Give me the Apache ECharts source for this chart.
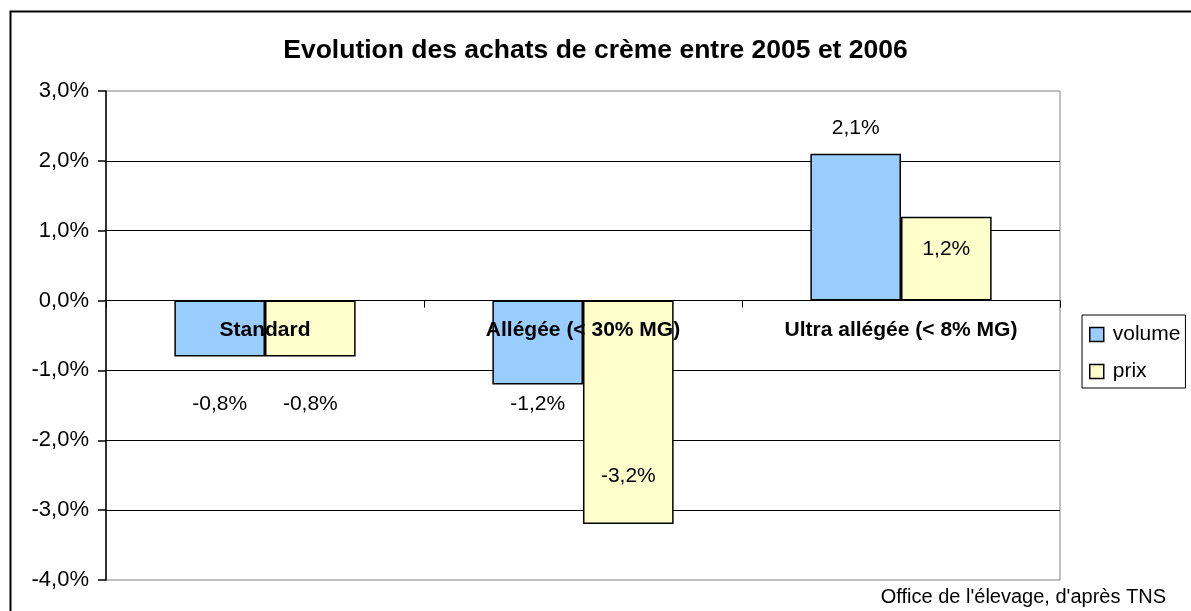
<!DOCTYPE html>
<html><head><meta charset="utf-8">
<script src="https://cdn.jsdelivr.net/npm/echarts@6/dist/echarts.min.js"></script>
<style>html,body{margin:0;padding:0;background:#fff}#c{width:1191px;height:611px}</style>
</head><body><div id="c"></div>
<script>
const categories = ['Standard', 'Allégée (< 30% MG)', 'Ultra allégée (< 8% MG)'];
const volume = [-0.8, -1.2, 2.1];
const prix = [-0.8, -3.2, 1.2];
const yTicks = { min: -4, max: 3, interval: 1 };

const FONT = '"Liberation Sans", Arial, sans-serif';
const fmt = v => v.toFixed(1).replace('.', ',').replace('-0,0', '0,0') + '%';

// label vertical offsets relative to bar centre (Excel-like placement)
const volOffsets = [76, 62, -99];
const prixOffsets = [76, 64, -9];

const GRID = { left: 106, top: 91, right: 131, bottom: 31 };
const plotH = 611 - GRID.top - GRID.bottom;
// category axis drawn at the zero line
const zeroOffset = -plotH * (0 - yTicks.min) / (yTicks.max - yTicks.min);

function mk(vals, offs) {
  return vals.map((v, i) => ({
    value: v,
    label: { offset: [0, offs[i]] }
  }));
}

const chart = echarts.init(document.getElementById('c'), null, { renderer: 'canvas' });
chart.setOption({
  animation: false,
  backgroundColor: '#fff',
  title: {
    text: 'Evolution des achats de crème entre 2005 et 2006',
    left: 'center', top: 32,
    textStyle: { fontFamily: FONT, fontSize: 26.5, fontWeight: 'bold', color: '#000' }
  },
  grid: Object.assign({ show: true, borderColor: '#808080', borderWidth: 1, backgroundColor: '#fff' }, GRID),
  legend: {
    orient: 'vertical', left: 1082, top: 315,
    data: ['volume', 'prix'],
    icon: 'rect', itemWidth: 14, itemHeight: 14, itemGap: 16,
    padding: [9, 5, 6, 7],
    borderColor: '#000', borderWidth: 1,
    itemStyle: { borderWidth: 1.5 },
    textStyle: { fontFamily: FONT, fontSize: 21, color: '#000', padding: [0, 0, 0, 4] }
  },
  xAxis: {
    type: 'category', data: categories, position: 'bottom', offset: zeroOffset,
    axisLine: { onZero: false, lineStyle: { color: '#000', width: 1 } },
    axisTick: { show: true, length: 7, lineStyle: { color: '#000' } },
    axisLabel: { margin: 19, fontFamily: FONT, fontSize: 21, fontWeight: 'bold', color: '#000' },
    z: 10
  },
  yAxis: {
    type: 'value', min: yTicks.min, max: yTicks.max, interval: yTicks.interval,
    axisLine: { show: true, lineStyle: { color: '#000', width: 1.5 } },
    axisTick: { show: true, length: 8, lineStyle: { color: '#000', width: 1.5 } },
    axisLabel: { formatter: fmt, margin: 17, fontFamily: FONT, fontSize: 22, color: '#000' },
    splitLine: { show: true, showMinLine: false, showMaxLine: false, lineStyle: { color: '#000', width: 1 } }
  },
  series: [
    {
      name: 'volume', type: 'bar', data: mk(volume, volOffsets),
      barGap: '0%', barCategoryGap: '43%',
      itemStyle: { color: '#99CCFF', borderColor: '#000', borderWidth: 1.5 },
      label: { show: true, position: 'inside', formatter: p => fmt(p.value),
        fontFamily: FONT, fontSize: 21, color: '#000' }
    },
    {
      name: 'prix', type: 'bar', data: mk(prix, prixOffsets),
      itemStyle: { color: '#FFFFCC', borderColor: '#000', borderWidth: 1.5 },
      label: { show: true, position: 'inside', formatter: p => fmt(p.value),
        fontFamily: FONT, fontSize: 21, color: '#000' }
    }
  ],
  graphic: [
    { type: 'rect', left: 8, top: 9, silent: true,
      shape: { width: 1300, height: 700 },
      style: { fill: 'none', stroke: '#000', lineWidth: 2 }, z: 100 },
    { type: 'text', right: 25, top: 587,
      style: { text: "Office de l'élevage, d'après TNS", font: '20px ' + FONT, fill: '#000' } }
  ]
});
</script></body></html>
